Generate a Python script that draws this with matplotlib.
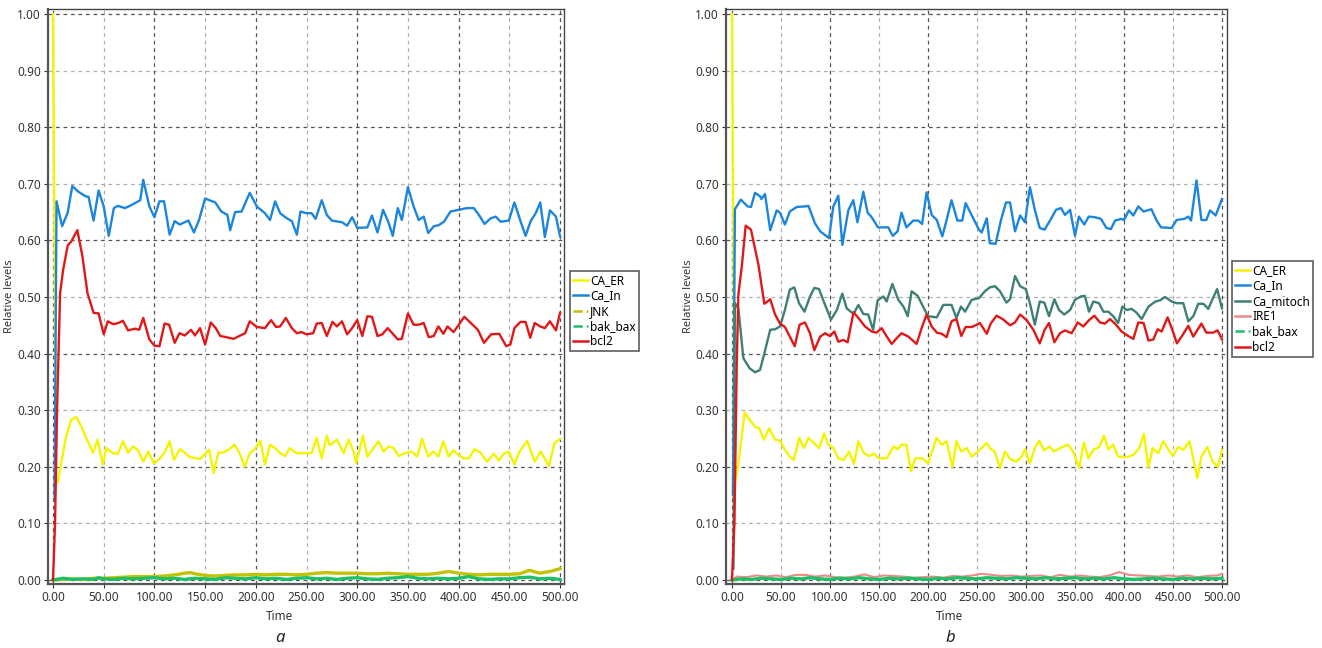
import numpy as np
import matplotlib
matplotlib.use("Agg")
import matplotlib.pyplot as plt
from matplotlib.lines import Line2D

plt.rcParams['font.family'] = ['Noto Sans', 'DejaVu Sans']

# ---- panel a : (time, level) pairs ----
ca_er_a = [(0, 1.0), (3, 0.171), (5, 0.174), (8, 0.206), (13, 0.254), (18, 0.283), (23, 0.288),
           (28, 0.271), (33.5, 0.248), (39.5, 0.225), (44, 0.248), (49, 0.204), (52.6, 0.233),
           (59, 0.224), (64, 0.223), (69, 0.245), (74, 0.225), (79, 0.236), (84, 0.229), (89, 0.209),
           (94, 0.227), (99.3, 0.206), (105, 0.214), (110, 0.225), (115, 0.245), (119.4, 0.212),
           (125, 0.231), (130, 0.225), (135, 0.217), (145, 0.214), (154, 0.23), (158.5, 0.189),
           (163, 0.225), (168, 0.225), (174, 0.231), (179, 0.239), (184, 0.224), (189, 0.2),
           (194, 0.224), (199, 0.231), (204.6, 0.246), (209, 0.204), (214, 0.239), (219, 0.233),
           (224, 0.224), (229, 0.219), (233.5, 0.233), (240, 0.224), (246.7, 0.224), (255, 0.224),
           (260, 0.251), (265, 0.215), (270, 0.255), (273, 0.238), (280, 0.248), (286.6, 0.224),
           (291.5, 0.248), (296.4, 0.227), (299, 0.206), (305.6, 0.255), (310, 0.218), (316, 0.233),
           (321, 0.245), (326, 0.227), (331, 0.236), (336, 0.233), (341, 0.219), (347, 0.224),
           (353.6, 0.227), (359, 0.218), (364, 0.249), (370, 0.218), (375, 0.227), (380, 0.218),
           (385, 0.245), (390, 0.218), (395, 0.229), (400, 0.221), (405, 0.215), (410, 0.215),
           (415.6, 0.231), (421.5, 0.225), (428, 0.209), (434.7, 0.223), (439.6, 0.211),
           (444.5, 0.223), (449.5, 0.227), (455, 0.204), (459.5, 0.225), (467.6, 0.246),
           (475, 0.209), (481, 0.227), (489, 0.201), (494.5, 0.242), (500, 0.249)]

ca_in_a = [(1.5, 0.14), (3.5, 0.669), (9, 0.625), (14.5, 0.649), (19, 0.696), (25, 0.686), (32, 0.678),
           (35, 0.677), (40, 0.635), (45, 0.688), (50, 0.66), (55, 0.608), (60, 0.657), (64, 0.661),
           (71, 0.657), (78, 0.663), (86, 0.671), (89, 0.707), (95, 0.66), (100, 0.641), (105, 0.669),
           (109.5, 0.669), (115, 0.61), (120, 0.634), (125, 0.628), (133.5, 0.635), (139, 0.614),
           (144, 0.636), (150, 0.674), (160, 0.667), (166, 0.651), (172, 0.645), (174.7, 0.618),
           (179.6, 0.65), (186, 0.651), (194, 0.684), (201, 0.66), (209, 0.648), (214, 0.636),
           (219, 0.669), (224, 0.648), (230.6, 0.639), (235.5, 0.634), (240.5, 0.61), (244, 0.651),
           (250, 0.648), (255, 0.648), (259, 0.638), (265, 0.671), (270, 0.645), (275, 0.635),
           (285, 0.632), (290, 0.626), (295, 0.641), (300, 0.622), (310, 0.623), (314.5, 0.644),
           (320, 0.614), (325.5, 0.654), (331, 0.631), (335, 0.608), (340, 0.657), (344, 0.636),
           (350, 0.694), (355.6, 0.66), (360.6, 0.636), (365.6, 0.642), (370, 0.613), (375.5, 0.625),
           (380.5, 0.627), (385.5, 0.633), (392, 0.651), (400, 0.654), (408, 0.657), (415, 0.657),
           (420, 0.645), (425.6, 0.629), (431.5, 0.639), (436.5, 0.642), (441.5, 0.633),
           (449.5, 0.635), (455, 0.667), (461, 0.634), (466, 0.608), (471, 0.634), (476, 0.648),
           (480.5, 0.667), (485, 0.606), (490, 0.653), (496, 0.642), (500, 0.607)]

jnk_a = [(0, 0.0), (10, 0.001), (20, 0.002), (30, 0.001), (40, 0.003), (50, 0.003), (60, 0.004),
         (70, 0.005), (80, 0.006), (90, 0.006), (100, 0.006), (110, 0.007), (120, 0.009), (130, 0.012),
         (135, 0.013), (140, 0.011), (150, 0.008), (160, 0.007), (170, 0.008), (180, 0.009),
         (190, 0.009), (200, 0.01), (210, 0.009), (220, 0.01), (230, 0.01), (240, 0.009), (250, 0.01),
         (260, 0.012), (270, 0.013), (280, 0.012), (290, 0.012), (300, 0.012), (310, 0.011),
         (320, 0.011), (330, 0.012), (340, 0.011), (350, 0.01), (360, 0.01), (370, 0.01), (380, 0.012),
         (390, 0.015), (400, 0.012), (410, 0.01), (420, 0.009), (430, 0.01), (440, 0.01), (450, 0.01),
         (460, 0.011), (470, 0.017), (480, 0.012), (490, 0.015), (500, 0.02)]

bak_bax_a = [(0, 0.0), (10, 0.003), (20, 0.001), (30, 0.002), (40, 0.001), (45, 0.004), (50, 0.002),
             (60, 0.001), (70, 0.003), (80, 0.002), (90, 0.003), (100, 0.004), (110, 0.002),
             (120, 0.003), (130, 0.001), (140, 0.003), (150, 0.002), (160, 0.001), (170, 0.004),
             (180, 0.003), (190, 0.002), (200, 0.004), (210, 0.002), (220, 0.003), (230, 0.001),
             (240, 0.003), (250, 0.004), (260, 0.002), (270, 0.003), (280, 0.001), (290, 0.003),
             (300, 0.004), (310, 0.002), (320, 0.001), (330, 0.003), (340, 0.004), (350, 0.006),
             (360, 0.003), (370, 0.002), (380, 0.003), (390, 0.002), (400, 0.003), (410, 0.006),
             (420, 0.002), (430, 0.001), (440, 0.002), (450, 0.002), (460, 0.004), (470, 0.005),
             (480, 0.002), (490, 0.003), (500, 0.001)]

bcl2_a = [(0, 0.0), (2, 0.1), (4, 0.3), (7, 0.507), (10, 0.548), (14.5, 0.591), (18, 0.598), (24, 0.618),
          (29, 0.572), (34, 0.507), (40, 0.472), (45, 0.471), (50, 0.434), (54, 0.457), (59.5, 0.452),
          (64.5, 0.454), (69, 0.458), (74, 0.441), (81, 0.444), (85, 0.442), (89, 0.463), (95, 0.425),
          (100, 0.414), (105, 0.413), (110, 0.453), (114.5, 0.451), (120, 0.419), (124.7, 0.436),
          (130, 0.432), (136, 0.442), (140, 0.432), (145, 0.445), (150, 0.416), (155.6, 0.455),
          (160.5, 0.445), (165, 0.431), (171, 0.429), (178, 0.426), (183.6, 0.431), (189.5, 0.436),
          (194, 0.457), (201, 0.447), (209, 0.445), (215, 0.459), (220, 0.447), (224, 0.448),
          (229.6, 0.463), (235.5, 0.445), (240.5, 0.436), (245, 0.438), (250, 0.434), (256.6, 0.436),
          (260, 0.453), (265, 0.454), (270, 0.431), (275.6, 0.456), (280, 0.448), (285, 0.457),
          (290, 0.434), (295, 0.445), (300, 0.459), (305, 0.431), (310, 0.466), (314.5, 0.465),
          (320, 0.431), (324.7, 0.434), (330, 0.445), (334.6, 0.436), (340, 0.425), (344, 0.426),
          (350, 0.471), (355.6, 0.451), (360.6, 0.451), (365.6, 0.454), (370.5, 0.429), (375.5, 0.431),
          (380, 0.448), (385, 0.435), (389, 0.448), (395, 0.438), (399, 0.448), (405.6, 0.465),
          (412, 0.454), (419, 0.442), (425, 0.419), (432, 0.434), (440, 0.435), (447, 0.413),
          (451, 0.416), (455, 0.445), (461, 0.456), (466, 0.456), (470.6, 0.428), (475, 0.454),
          (480.5, 0.448), (485, 0.445), (490, 0.457), (496, 0.441), (500, 0.472)]

# ---- panel b ----
ca_er_b = [(0, 1.0), (3, 0.171), (6.5, 0.206), (10, 0.254), (13, 0.296), (18, 0.283), (23.5, 0.271),
           (28, 0.268), (32.6, 0.248), (38, 0.268), (44, 0.248), (49, 0.246), (54, 0.23), (59, 0.218),
           (63, 0.212), (68.7, 0.251), (73.5, 0.233), (78, 0.251), (83, 0.243), (89, 0.233), (94, 0.259),
           (98.3, 0.239), (103.4, 0.233), (108.5, 0.215), (114, 0.212), (119.4, 0.227), (124.5, 0.205),
           (129, 0.245), (134.7, 0.224), (140, 0.219), (145, 0.223), (149.6, 0.215), (158, 0.215),
           (165, 0.236), (169, 0.231), (173, 0.239), (178, 0.239), (182.7, 0.192), (187, 0.215),
           (194, 0.215), (200, 0.206), (208.8, 0.251), (214, 0.239), (219, 0.245), (225, 0.2),
           (229, 0.245), (234, 0.227), (239.5, 0.233), (244.6, 0.218), (251, 0.227), (260, 0.242),
           (263, 0.233), (268, 0.227), (273.5, 0.198), (278.6, 0.227), (283.7, 0.214), (290, 0.209),
           (295.6, 0.218), (299, 0.231), (304, 0.206), (309, 0.233), (313.6, 0.246), (318.4, 0.229),
           (324, 0.236), (328.6, 0.227), (334.7, 0.233), (343, 0.239), (348, 0.227), (354.4, 0.198),
           (359, 0.243), (363.6, 0.215), (368.7, 0.23), (374.8, 0.235), (379.6, 0.255), (384, 0.231),
           (389, 0.239), (394, 0.218), (402.7, 0.217), (409.5, 0.221), (415.6, 0.233), (420.4, 0.258),
           (424.8, 0.199), (429.3, 0.233), (435, 0.224), (440, 0.245), (445.2, 0.231), (449.7, 0.219),
           (455.4, 0.235), (460.5, 0.23), (466.7, 0.245), (470.7, 0.215), (474.8, 0.18), (479, 0.218),
           (485, 0.235), (490.5, 0.209), (496, 0.2), (500, 0.23)]

ca_in_b = [(1, 0.15), (3, 0.655), (9, 0.672), (16, 0.66), (19.4, 0.659), (23.5, 0.684), (28.6, 0.678),
           (30, 0.673), (33.7, 0.682), (39, 0.618), (45.6, 0.653), (49, 0.649), (54, 0.628), (59, 0.651),
           (66, 0.659), (74.5, 0.66), (78, 0.661), (84.7, 0.63), (90, 0.616), (99, 0.604), (103.4, 0.66),
           (108.5, 0.679), (112.6, 0.592), (118.7, 0.653), (123.8, 0.671), (128, 0.632), (134, 0.686),
           (138.4, 0.649), (142.5, 0.641), (149, 0.623), (159.5, 0.623), (164, 0.608), (169, 0.616),
           (173, 0.649), (178, 0.623), (185, 0.635), (190, 0.635), (194, 0.629), (198.6, 0.685),
           (203.7, 0.645), (209, 0.636), (214.6, 0.607), (219, 0.636), (224, 0.671), (230, 0.635),
           (235, 0.635), (238.4, 0.666), (245, 0.643), (252, 0.619), (254.8, 0.614), (260, 0.639),
           (263, 0.595), (269, 0.594), (274.5, 0.636), (279.6, 0.667), (283.7, 0.667), (288.8, 0.616),
           (294, 0.644), (299, 0.632), (304, 0.694), (309, 0.654), (314, 0.622), (319, 0.619),
           (325.5, 0.638), (330.6, 0.654), (335.7, 0.657), (339.8, 0.645), (345, 0.654), (350, 0.608),
           (354, 0.642), (359.5, 0.628), (364, 0.642), (370, 0.641), (376.5, 0.638), (382, 0.622),
           (386.7, 0.62), (390.8, 0.635), (397.6, 0.638), (400, 0.636), (405, 0.653), (409.5, 0.644),
           (414.6, 0.66), (420, 0.651), (428, 0.655), (433.3, 0.635), (437.8, 0.623), (448.6, 0.622),
           (453.7, 0.636), (461.6, 0.638), (465.6, 0.642), (468.4, 0.635), (474, 0.706), (479, 0.636),
           (484, 0.636), (487.8, 0.653), (493.5, 0.644), (500, 0.673)]

ca_mitoch_b = [(1.5, 0.02), (3, 0.489), (6.5, 0.48), (11.6, 0.392), (18, 0.374), (23.5, 0.367),
               (28.6, 0.371), (33, 0.4), (39, 0.442), (44, 0.443), (49, 0.448), (54, 0.477), (59, 0.513),
               (63.6, 0.517), (68.4, 0.489), (74, 0.474), (79.6, 0.501), (84, 0.516), (88.8, 0.514),
               (95, 0.486), (101, 0.46), (107, 0.477), (112.6, 0.506), (117, 0.48), (124, 0.47),
               (129, 0.486), (134, 0.47), (139, 0.469), (144, 0.442), (148.6, 0.494), (154.4, 0.501),
               (157.8, 0.492), (163.6, 0.523), (169.7, 0.495), (175, 0.483), (179.3, 0.466),
               (183.3, 0.51), (189.5, 0.502), (195, 0.483), (200, 0.466), (209, 0.464), (215.6, 0.486),
               (224, 0.486), (229, 0.463), (233.7, 0.483), (237.8, 0.474), (244.6, 0.495), (252, 0.498),
               (258, 0.51), (263, 0.517), (268.4, 0.519), (273.5, 0.51), (280, 0.49), (283.7, 0.496),
               (288.8, 0.537), (294, 0.519), (299.7, 0.514), (304, 0.489), (309, 0.451), (314, 0.492),
               (318.7, 0.49), (323.5, 0.466), (329, 0.496), (333.7, 0.477), (339, 0.469), (345, 0.477),
               (350, 0.495), (356, 0.501), (360, 0.502), (364.3, 0.474), (368.7, 0.492), (374.5, 0.489),
               (379, 0.474), (384, 0.474), (389, 0.466), (394, 0.454), (398.3, 0.483), (402.7, 0.477),
               (407.8, 0.479), (413, 0.472), (418, 0.461), (425, 0.483), (432, 0.492), (436.7, 0.494),
               (441.8, 0.5), (448.6, 0.492), (453.7, 0.489), (460.5, 0.489), (465.6, 0.457),
               (470.7, 0.466), (475.8, 0.488), (481, 0.488), (486, 0.479), (490, 0.495), (495, 0.514),
               (500, 0.48)]

ire1_b = [(0, 0.0), (5, 0.006), (15, 0.005), (25, 0.008), (35, 0.006), (45, 0.008), (55, 0.005),
          (65, 0.009), (75, 0.009), (85, 0.006), (95, 0.008), (105, 0.005), (115, 0.004), (125, 0.006),
          (135, 0.01), (145, 0.005), (155, 0.008), (165, 0.007), (175, 0.006), (185, 0.004),
          (195, 0.005), (205, 0.006), (215, 0.004), (225, 0.007), (235, 0.006), (245, 0.008),
          (255, 0.011), (265, 0.009), (275, 0.007), (285, 0.008), (295, 0.006), (305, 0.007),
          (315, 0.008), (325, 0.005), (335, 0.009), (345, 0.006), (355, 0.008), (365, 0.006),
          (375, 0.005), (385, 0.008), (395, 0.014), (405, 0.009), (415, 0.008), (425, 0.007),
          (435, 0.006), (445, 0.008), (455, 0.006), (465, 0.008), (475, 0.005), (485, 0.007),
          (495, 0.008), (500, 0.011)]

bak_bax_b = [(0, 0.0), (10, 0.002), (20, 0.001), (30, 0.003), (40, 0.002), (50, 0.001), (60, 0.003),
             (70, 0.002), (80, 0.004), (90, 0.002), (100, 0.001), (110, 0.003), (120, 0.002),
             (130, 0.004), (140, 0.002), (150, 0.001), (160, 0.003), (170, 0.002), (180, 0.003),
             (190, 0.002), (200, 0.001), (210, 0.003), (220, 0.002), (230, 0.004), (240, 0.003),
             (250, 0.002), (260, 0.004), (270, 0.003), (280, 0.002), (290, 0.004), (300, 0.003),
             (310, 0.002), (320, 0.004), (330, 0.002), (340, 0.003), (350, 0.004), (360, 0.002),
             (370, 0.003), (380, 0.002), (390, 0.004), (400, 0.002), (410, 0.001), (420, 0.002),
             (430, 0.003), (440, 0.002), (450, 0.001), (460, 0.003), (470, 0.002), (480, 0.003),
             (490, 0.002), (500, 0.003)]

bcl2_b = [(0, 0.0), (2.5, 0.1), (4.8, 0.377), (6.5, 0.504), (10, 0.554), (14, 0.626), (19.4, 0.619),
          (27, 0.557), (33, 0.488), (39, 0.496), (44, 0.469), (49, 0.453), (54, 0.447), (59, 0.43),
          (64, 0.413), (69, 0.451), (74.5, 0.455), (79.6, 0.436), (84, 0.406), (90, 0.43), (95, 0.436),
          (100, 0.431), (104.4, 0.439), (108.5, 0.421), (113.6, 0.424), (118, 0.42), (124, 0.473),
          (129, 0.463), (135.7, 0.448), (142.5, 0.439), (147.6, 0.437), (152.7, 0.445), (158, 0.43),
          (163, 0.417), (168, 0.427), (173, 0.436), (180, 0.43), (188.4, 0.417), (193.5, 0.445),
          (198.6, 0.469), (203.7, 0.448), (209, 0.437), (214, 0.435), (219, 0.429), (224, 0.457),
          (229, 0.461), (234, 0.431), (238.4, 0.447), (245, 0.447), (253, 0.454), (260, 0.435),
          (264, 0.453), (270, 0.467), (277, 0.46), (283.7, 0.45), (288.8, 0.455), (294, 0.469),
          (300.7, 0.459), (307.5, 0.442), (314, 0.418), (319, 0.442), (323.5, 0.454), (329, 0.42),
          (334.7, 0.436), (339.8, 0.441), (346.6, 0.436), (352.7, 0.455), (358.5, 0.448),
          (364.3, 0.459), (369.7, 0.467), (375.5, 0.455), (380.6, 0.453), (385.7, 0.461),
          (390.8, 0.453), (397.6, 0.439), (404.4, 0.431), (409.5, 0.426), (414.6, 0.455), (420, 0.454),
          (425, 0.423), (430, 0.425), (434.4, 0.443), (438.4, 0.439), (444.5, 0.464), (449.3, 0.442),
          (454, 0.418), (458.8, 0.43), (465.6, 0.449), (470.7, 0.43), (479, 0.453), (484, 0.437),
          (491, 0.437), (495.5, 0.441), (500, 0.425)]

y_ticks = [0.0, 0.1, 0.2, 0.3, 0.4, 0.5, 0.6, 0.7, 0.8, 0.9, 1.0]
x_ticks = [0, 50, 100, 150, 200, 250, 300, 350, 400, 450, 500]

c_er = '#f4f400'
c_in = '#1c86dc'
c_jnk = '#c2c200'
c_bak = '#1cc068'
c_bcl = '#e01818'
c_mit = '#3e7f76'
c_ire = '#f08a8a'

fig = plt.figure(figsize=(13.22, 6.48), dpi=100)


def panel(rect, xlim, series, legend_pos, letter, xcenter):
    ax = fig.add_axes(rect)
    for pts, col, lab, ls, lw in series:
        t, v = zip(*pts)
        ax.plot(t, v, color=col, lw=lw, zorder=3)
    ax.set_xlim(*xlim)
    ax.set_ylim(-0.0071, 1.0088)
    ax.set_yticks(y_ticks)
    ax.set_yticklabels(['%.2f' % y for y in y_ticks])
    ax.set_xticks(x_ticks)
    ax.set_xticklabels(['%.2f' % x for x in x_ticks])
    ax.tick_params(labelsize=8.5, colors='#333333', length=3, width=0.8, pad=2)
    for y in y_ticks:
        dark = int(round(y * 10)) % 2 == 0
        ax.axhline(y, color='#555555' if dark else '#b0b0b0', lw=0.9, ls=(0, (3, 3)), zorder=1)
    for x in x_ticks:
        dark = x % 100 == 0
        ax.axvline(x, color='#555555' if dark else '#b0b0b0', lw=0.9, ls=(0, (3, 3)), zorder=1)
    for s in ['left', 'bottom']:
        ax.spines[s].set_linewidth(1.6)
        ax.spines[s].set_color('#555555')
    for s in ['top', 'right']:
        ax.spines[s].set_linewidth(1.0)
        ax.spines[s].set_color('#444444')
    handles = [Line2D([], [], color=col, lw=1.8, ls=ls) for _, col, _, ls, _ in series]
    labels = [lab for _, _, lab, _, _ in series]
    leg = fig.legend(handles, labels, loc='upper left', bbox_to_anchor=legend_pos,
                     frameon=True, fancybox=False, fontsize=8.5, handlelength=1.3,
                     handletextpad=0.15, borderpad=0.25, labelspacing=0.2, borderaxespad=0)
    leg.get_frame().set_edgecolor('#333333')
    leg.get_frame().set_linewidth(1.2)
    fig.text(xcenter, 1 - 617 / 648, 'Time', ha='center', va='center', fontsize=8.5, color='#333333')
    fig.text(xcenter, 1 - 638 / 648, letter, ha='center', va='center', fontsize=12,
             style='italic', color='#222222')
    fig.text(rect[0] - 38 / 1322, rect[1] + rect[3] / 2, 'Relative levels', rotation=90,
             ha='center', va='center', fontsize=8, color='#333333')
    return ax


panel([48 / 1322, 64 / 648, 516 / 1322, 575 / 648], (-4.93, 503.9),
      [(ca_er_a, c_er, 'CA_ER', '-', 1.7), (ca_in_a, c_in, 'Ca_In', '-', 1.7),
       (jnk_a, c_jnk, 'JNK', '--', 2.4), (bak_bax_a, c_bak, 'bak_bax', '--', 2.4),
       (bcl2_a, c_bcl, 'bcl2', '-', 1.7)],
      (570 / 1322, 1 - 271 / 648), 'a', 280 / 1322)

panel([726 / 1322, 64 / 648, 501 / 1322, 575 / 648], (-6.1, 505.1),
      [(ca_er_b, c_er, 'CA_ER', '-', 1.7), (ca_in_b, c_in, 'Ca_In', '-', 1.7),
       (ca_mitoch_b, c_mit, 'Ca_mitoch', '-', 1.7), (ire1_b, c_ire, 'IRE1', '-', 1.5),
       (bak_bax_b, c_bak, 'bak_bax', '--', 2.4), (bcl2_b, c_bcl, 'bcl2', '-', 1.7)],
      (1232 / 1322, 1 - 261 / 648), 'b', 950 / 1322)

fig.savefig('out.png', dpi=100)
